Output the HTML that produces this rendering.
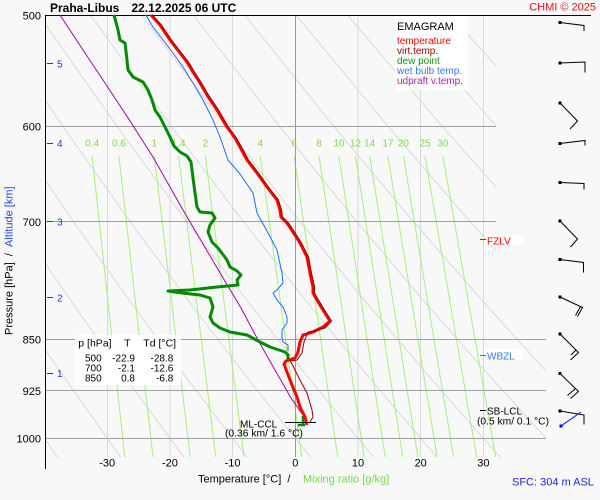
<!DOCTYPE html>
<html>
<head>
<meta charset="utf-8">
<style>
html,body{margin:0;padding:0;background:#f8f8f8;}
svg{display:block;font-family:"Liberation Sans",Arial,sans-serif;}
</style>
</head>
<body>
<svg width="600" height="500" viewBox="0 0 600 500" xmlns="http://www.w3.org/2000/svg">
<defs>
<clipPath id="c"><path d="M45.5,15 H496 V310 H546 V457.5 H45.5 Z"/></clipPath>
</defs>
<rect x="0" y="0" width="600" height="500" fill="#f8f8f8"/>

<!-- isotherms -->
<g stroke="#d9d9d9" stroke-width="1" fill="none" shape-rendering="crispEdges">
<path d="M107.5,15 V457 M170,15 V457 M232.5,15 V457 M358,15 V457 M420.5,15 V457 M483.5,15 V457"/>
</g>

<!-- dry adiabats -->
<g clip-path="url(#c)" stroke="#d9d9d9" stroke-width="1" fill="none">
<polyline points="-218.2,15 -154.0,126.3 -97.2,220.5 -45.9,302 1.1,374 44.5,438.3 57.6,457.3"/>
<polyline points="-166.8,15 -99.8,126.3 -40.6,220.5 12.9,302 61.9,374 107.2,438.3 120.9,457.3"/>
<polyline points="-115.3,15 -45.6,126.3 16.0,220.5 71.7,302 122.8,374 169.9,438.3 184.1,457.3"/>
<polyline points="-63.9,15 8.6,126.3 72.7,220.5 130.5,302 183.6,374 232.6,438.3 247.4,457.3"/>
<polyline points="-12.5,15 62.8,126.3 129.3,220.5 189.4,302 244.4,374 295.3,438.3 310.7,457.3"/>
<polyline points="38.9,15 117.0,126.3 185.9,220.5 248.2,302 305.3,374 358.0,438.3 373.9,457.3"/>
<polyline points="90.4,15 171.2,126.3 242.5,220.5 307.0,302 366.1,374 420.7,438.3 437.2,457.3"/>
<polyline points="141.8,15 225.4,126.3 299.2,220.5 365.9,302 427.0,374 483.4,438.3 500.4,457.3"/>
<polyline points="193.2,15 279.6,126.3 355.8,220.5 424.7,302 487.8,374 546.1,438.3 563.7,457.3"/>
<polyline points="244.7,15 333.7,126.3 412.4,220.5 483.5,302 548.6,374 608.8,438.3 626.9,457.3"/>
<polyline points="296.1,15 387.9,126.3 469.1,220.5 542.4,302 609.4,374"/>
<polyline points="347.5,15 442.1,126.3 525.7,220.5 601.2,302"/>
<polyline points="399.0,15 496.3,126.3 582.4,220.5"/>
<polyline points="450.4,15 550.5,126.3 639.0,220.5"/>
<polyline points="501.8,15 604.7,126.3"/>
</g>

<!-- mixing ratio lines -->
<g stroke="#a6f07a" stroke-width="1" fill="none">
<path d="M92.1,156 L124.8,457 M118.9,156 L153.0,457 M154.3,156 L190.2,457 M178.6,156 L215.8,457 M205.3,156 L244.0,457 M260.2,156 L301.9,457 M294.1,156 L337.7,457 M319.0,156 L364.1,457 M338.9,156 L385.2,457 M355.4,156 L402.7,457 M369.7,156 L417.8,457 M387.9,156 L437.1,457 M403.4,156 L453.6,457 M425.0,156 L476.6,457 M442.9,156 L495.6,457"/>
</g>

<!-- 0 C isotherm -->
<path d="M295.5,15 V457" stroke="#9a9a9a" stroke-width="1" shape-rendering="crispEdges"/>

<!-- isobars -->
<g stroke="#a0a0a0" stroke-width="1" fill="none" shape-rendering="crispEdges">
<path d="M45,126.5 H496 M45,221.5 H496 M45,339.5 H546 M45,390.5 H546 M45,438.5 H546"/>
</g>

<!-- frame -->
<path d="M45,15.5 H591" stroke="#000" stroke-width="1" shape-rendering="crispEdges"/>
<path d="M45.5,15 V469" stroke="#000" stroke-width="1" shape-rendering="crispEdges"/>

<!-- mixing ratio labels -->
<g fill="#84d94e" font-size="10" text-anchor="middle">
<text x="92.1" y="146.7">0.4</text>
<text x="118.9" y="146.7">0.6</text>
<text x="154.3" y="146.7">1</text>
<text x="178.6" y="146.7">1.4</text>
<text x="205.3" y="146.7">2</text>
<text x="260.2" y="146.7">4</text>
<text x="294.1" y="146.7">6</text>
<text x="319.0" y="146.7">8</text>
<text x="338.9" y="146.7">10</text>
<text x="355.4" y="146.7">12</text>
<text x="369.7" y="146.7">14</text>
<text x="387.9" y="146.7">17</text>
<text x="403.4" y="146.7">20</text>
<text x="425.0" y="146.7">25</text>
<text x="442.9" y="146.7">30</text>
</g>

<!-- legend box -->
<rect x="395" y="16" width="73" height="74" fill="#ffffff"/>
<text x="397" y="30" font-size="11" fill="#000">EMAGRAM</text>
<g font-size="10">
<text x="397" y="43.8" fill="#ff0000">temperature</text>
<text x="397" y="53.8" fill="#a00000">virt.temp.</text>
<text x="397" y="63.8" fill="#109910">dew point</text>
<text x="397" y="73.8" fill="#3377ff">wet bulb temp.</text>
<text x="397" y="83.8" fill="#aa22bb">udpraft v.temp.</text>
</g>

<!-- table -->
<rect x="75" y="335" width="106" height="50" fill="#ffffff"/>
<g font-size="10.5" fill="#000">
<text x="78.3" y="346.7">p [hPa]</text>
<text x="127.3" y="346.7" text-anchor="middle">T</text>
<text x="143.3" y="346.7">Td [°C]</text>
</g>
<g font-size="10" fill="#000">
<text x="93.3" y="361.7" text-anchor="middle">500</text>
<text x="135" y="361.7" text-anchor="end">-22.9</text>
<text x="173.3" y="361.7" text-anchor="end">-28.8</text>
<text x="93.3" y="371.7" text-anchor="middle">700</text>
<text x="135" y="371.7" text-anchor="end">-2.1</text>
<text x="173.3" y="371.7" text-anchor="end">-12.6</text>
<text x="93.3" y="381.7" text-anchor="middle">850</text>
<text x="135" y="381.7" text-anchor="end">0.8</text>
<text x="173.3" y="381.7" text-anchor="end">-6.8</text>
</g>

<!-- level labels -->
<rect x="485" y="235" width="38" height="10" fill="#ffffff"/>
<path d="M480,239.5 H486" stroke="#ff0000" stroke-width="1"/>
<text x="487" y="244.3" font-size="10" fill="#ff0000">FZLV</text>
<rect x="485" y="349.5" width="38" height="10.5" fill="#ffffff"/>
<path d="M480,355.5 H486" stroke="#3377ff" stroke-width="1"/>
<text x="487" y="359.3" font-size="10" fill="#3377ff">WBZL</text>
<path d="M480,410.5 H486" stroke="#000" stroke-width="1"/>
<text x="487" y="414.7" font-size="10" fill="#000">SB-LCL</text>
<text x="477" y="424.5" font-size="10" fill="#000" textLength="72" lengthAdjust="spacingAndGlyphs">(0.5 km/ 0.1 °C)</text>

<text x="240" y="427.3" font-size="10" fill="#000">ML-CCL</text>
<text x="225" y="436.5" font-size="10" fill="#000" textLength="78" lengthAdjust="spacingAndGlyphs">(0.36 km/ 1.6 °C)</text>

<!-- profiles -->
<polyline fill="none" stroke="#aa00aa" stroke-width="1" points="60,15 83,50 107,86 130,121 153,157 183,210 213,261 241,308 258,340 275,370 291,398 305,418"/>
<polyline fill="none" stroke="#1a6cff" stroke-width="1" points="146,15 153,27 163,40 173,53 183,67 193,83 203,100 213,120 220,137 228,160 240,174 253,193 257,213 267,231 277,250 282,273 283,283 277,290 273,293 277,300 283,307 287,317 287,323 282,330 282,337 283,342 288,345 288,351"/>
<polyline fill="none" stroke="#008a00" stroke-width="3" stroke-linejoin="round" points="114,15 118,30 120,40 125,43 127,60 128,70 133,77 143,82 148,90 152,100 155,110 160,117 165,127 170,137 174,146 180,152 187,156 191,162 192,170 195,193 197,207 200,212 212,213 215,218 210,225 208,232 212,242 218,248 227,260 230,267 237,271 241,275 237,280 238,285 217,287 190,290 168,291 182,293 200,295 210,298 213,307 210,317 213,323 220,328 230,332 247,335 260,342 270,347 285,352 288,355 288,361"/>
<path d="M298,425 H305 M303,416 V425" stroke="#008a00" stroke-width="2.5" fill="none"/>
<polyline fill="none" stroke="#ff0000" stroke-width="3" stroke-linejoin="round" points="151,15 160,25 170,40 180,53 187,62 193,72 200,83 207,95 217,110 227,127 235,138 240,147 247,160 257,173 267,187 277,200 280,210 281,217 287,223 295,235 300,243 307,257 310,273 313,287 313,293 317,300 323,310 330,321 323,327 313,332 303,335 300,342 298,352 295,358 286,361 284,364 287,372 292,385 297,397 300,407 305,417 307,425"/>
<polyline fill="none" stroke="#900000" stroke-width="1" points="152.5,15 161.5,25 171.5,40 181.5,53 188.5,62 194.5,72 201.5,83 208.5,95 218.5,110 228.5,127 236.5,138 241.5,147 248.5,160 258.5,173 268.5,187 278.5,200 281.5,210 282.5,217 288.5,223 296.5,235 301.5,243 308.5,257 311.5,273 314.5,287 314.5,293 318.5,300 324.5,310 331.5,321 325,328 308,332 304,342 302,353 297,360 290,361 292,364 300,380 307,393 312,410 313,417 310,422"/>

<!-- ML-CCL line -->
<path d="M285,422.5 H316" stroke="#000" stroke-width="1"/>

<!-- wind barbs -->
<g stroke="#000" stroke-width="1" fill="none">
<path d="M560,22.5 L584,25.5 L584,31"/>
<path d="M560,63 L585,62 L585,72.5"/>
<path d="M560,103 L577.5,121 L570,129"/>
<path d="M560,143.5 L585,140.5 L585,145.5"/>
<path d="M560,182.5 L584,183.5 L584,189.5"/>
<path d="M560,221 L577.5,239 L570.5,247"/>
<path d="M560,259.5 L583.5,262.5 L583.5,272.5"/>
<path d="M560,297 L582.5,307.5 L577.5,316.5 M580.5,306.5 L575.5,315.5"/>
<path d="M560,334 L578.5,352.5 L570.5,360 M576,350 L571,355"/>
<path d="M560,373.5 L578.5,391.5 L570.5,398.5 M575.5,388.5 L567.5,395.5"/>
<path d="M560,411 L584,415 L584,424.5"/>
</g>
<path d="M561,426 L581,412" stroke="#0000ee" stroke-width="1" fill="none"/>
<g fill="#000">
<rect x="558.5" y="21" width="3" height="3"/>
<rect x="558.5" y="61.5" width="3" height="3"/>
<rect x="558.5" y="101.5" width="3" height="3"/>
<rect x="558.5" y="142" width="3" height="3"/>
<rect x="558.5" y="181" width="3" height="3"/>
<rect x="558.5" y="219.5" width="3" height="3"/>
<rect x="558.5" y="258" width="3" height="3"/>
<rect x="558.5" y="295.5" width="3" height="3"/>
<rect x="558.5" y="332.5" width="3" height="3"/>
<rect x="558.5" y="372" width="3" height="3"/>
<rect x="558.5" y="409.5" width="3" height="3"/>
</g>
<rect x="559.5" y="424.5" width="3" height="3" fill="#0000ee"/>

<!-- altitude ticks -->
<g stroke="#2233ee" stroke-width="1">
<path d="M47,63.5 H53 M47,143.5 H53 M47,221.5 H53 M47,297.5 H53 M47,373.5 H53"/>
</g>
<g fill="#2233ee" font-size="10">
<text x="57" y="67.7">5</text>
<text x="57" y="147">4</text>
<text x="57" y="225.3">3</text>
<text x="57" y="301.5">2</text>
<text x="57" y="377">1</text>
</g>

<!-- pressure labels -->
<g fill="#000" font-size="11" text-anchor="end">
<text x="41" y="19.3">500</text>
<text x="41" y="130.7">600</text>
<text x="41" y="225.8">700</text>
<text x="41" y="343.5">850</text>
<text x="41" y="395">925</text>
<text x="41" y="442.7">1000</text>
</g>

<!-- temperature labels -->
<g fill="#000" font-size="11" text-anchor="middle">
<text x="107.2" y="466.7">-30</text>
<text x="169.9" y="466.7">-20</text>
<text x="232.6" y="466.7">-10</text>
<text x="295.3" y="466.7">0</text>
<text x="358" y="466.7">10</text>
<text x="420.7" y="466.7">20</text>
<text x="483.4" y="466.7">30</text>
</g>

<!-- axis titles -->
<text x="198" y="482.5" font-size="11" fill="#000">Temperature [°C]&#160;&#160;/</text>
<text x="303" y="482.5" font-size="11" fill="#77d94a">Mixing ratio [g/kg]</text>
<text x="512" y="485.7" font-size="11" fill="#2222ee">SFC: 304 m ASL</text>
<text transform="translate(12.5,335) rotate(-90)" font-size="11" fill="#000">Pressure [hPa]&#160;&#160;/&#160;&#160;<tspan fill="#2244ff">Altitude [km]</tspan></text>

<!-- title -->
<text x="50" y="12" font-size="12" font-weight="bold" fill="#000">Praha-Libus</text>
<text x="131.5" y="12" font-size="12" font-weight="bold" fill="#000">22.12.2025 06 UTC</text>
<text x="596" y="10.7" font-size="11" fill="#ee1111" text-anchor="end">CHMI © 2025</text>
</svg>
</body>
</html>
